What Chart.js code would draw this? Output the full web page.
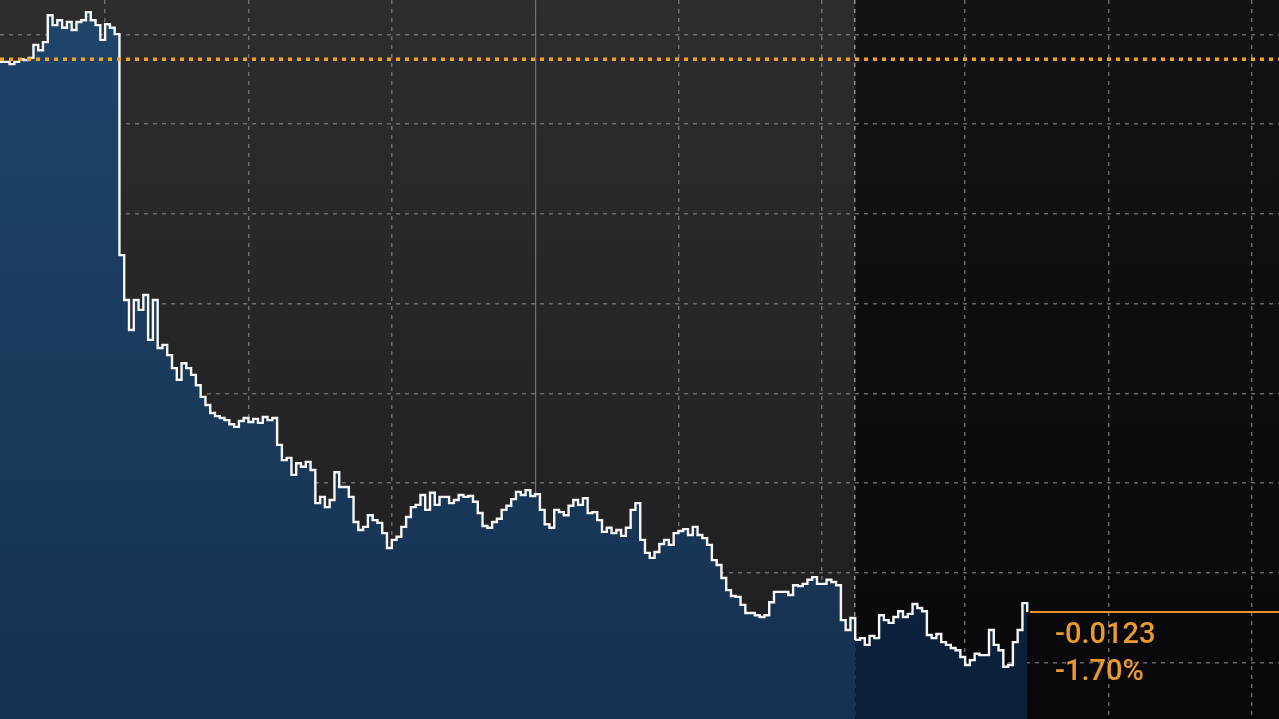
<!DOCTYPE html>
<html>
<head>
<meta charset="utf-8">
<script src="https://cdn.jsdelivr.net/npm/chart.js@4.4.1/dist/chart.umd.min.js"></script>
<style>
  html, body { margin: 0; padding: 0; background: #1f1e21; overflow: hidden; }
  #wrap { width: 1279px; height: 719px; }
</style>
</head>
<body>
<div id="wrap"><canvas id="fxChart" width="1279" height="719"></canvas></div>
<script>
// previous close (orange dotted line) and the index where the dark session starts
const prevClose = 0.72345;
const sessionBreak = 179;

// grid positions (x = bar index, y = price)
const xGridTicks = [22, 52, 82, 112, 142, 172, 179, 202, 232, 262];
const solidTick = 112;
const yGridTicks = [0.710, 0.712, 0.714, 0.716, 0.718, 0.720, 0.722, 0.724];

// close of each bar
const prices = [
  0.72339, 0.72339, 0.72334, 0.72339, 0.72345, 0.72343, 0.72348, 0.72377, 0.72365, 0.72383, 0.72443, 0.72421,
  0.72432, 0.72415, 0.72428, 0.72410, 0.72428, 0.72432, 0.72450, 0.72432, 0.72421, 0.72388, 0.72423, 0.72415,
  0.72401, 0.71908, 0.71808, 0.71741, 0.71808, 0.71786, 0.71819, 0.71719, 0.71808, 0.71701, 0.71708, 0.71685,
  0.71656, 0.71630, 0.71667, 0.71656, 0.71641, 0.71618, 0.71592, 0.71574, 0.71556, 0.71549, 0.71545, 0.71540,
  0.71531, 0.71525, 0.71538, 0.71545, 0.71536, 0.71543, 0.71534, 0.71547, 0.71540, 0.71545, 0.71485, 0.71451,
  0.71456, 0.71418, 0.71444, 0.71436, 0.71447, 0.71429, 0.71355, 0.71369, 0.71346, 0.71362, 0.71424, 0.71391,
  0.71391, 0.71369, 0.71313, 0.71295, 0.71302, 0.71328, 0.71317, 0.71311, 0.71288, 0.71255, 0.71273, 0.71280,
  0.71302, 0.71324, 0.71346, 0.71351, 0.71373, 0.71340, 0.71378, 0.71351, 0.71369, 0.71369, 0.71355, 0.71362,
  0.71373, 0.71369, 0.71371, 0.71358, 0.71333, 0.71304, 0.71300, 0.71313, 0.71320, 0.71340, 0.71349, 0.71364,
  0.71380, 0.71373, 0.71384, 0.71371, 0.71375, 0.71340, 0.71308, 0.71300, 0.71340, 0.71335, 0.71328, 0.71349,
  0.71362, 0.71351, 0.71366, 0.71333, 0.71335, 0.71317, 0.71291, 0.71300, 0.71288, 0.71295, 0.71282, 0.71300,
  0.71340, 0.71355, 0.71273, 0.71244, 0.71233, 0.71246, 0.71264, 0.71273, 0.71262, 0.71288, 0.71293, 0.71297,
  0.71284, 0.71302, 0.71284, 0.71277, 0.71262, 0.71228, 0.71217, 0.71188, 0.71161, 0.71148, 0.71146, 0.71128,
  0.71110, 0.71110, 0.71105, 0.71101, 0.71105, 0.71134, 0.71157, 0.71157, 0.71157, 0.71150, 0.71172, 0.71170,
  0.71175, 0.71184, 0.71190, 0.71175, 0.71175, 0.71184, 0.71179, 0.71172, 0.71094, 0.71072, 0.71099, 0.71050,
  0.71054, 0.71039, 0.71059, 0.71054, 0.71105, 0.71094, 0.71088, 0.71101, 0.71114, 0.71101, 0.71108, 0.71130,
  0.71121, 0.71114, 0.71061, 0.71054, 0.71063, 0.71045, 0.71039, 0.71032, 0.71027, 0.71012, 0.70994, 0.71005,
  0.71019, 0.71016, 0.71016, 0.71072, 0.71039, 0.71027, 0.70990, 0.70994, 0.71045, 0.71072, 0.71132, 0.71112
];

const canvas = document.getElementById("fxChart");
const c2d = canvas.getContext("2d");

const dayFill = c2d.createLinearGradient(0, 0, 0, canvas.height);
dayFill.addColorStop(0, "#1f446a");
dayFill.addColorStop(1, "#163150");
const nightFill = c2d.createLinearGradient(0, 0, 0, canvas.height);
nightFill.addColorStop(0, "#122e4f");
nightFill.addColorStop(1, "#0b2039");

const gridColor = "rgba(140, 140, 146, 0.7)";

const backdrop = {
  id: "backdrop",
  beforeDraw(chart) {
    const { ctx, chartArea: a, scales } = chart;
    const bx = scales.x.getPixelForValue(sessionBreak);
    ctx.save();
    let g = ctx.createLinearGradient(0, a.top, 0, a.bottom);
    g.addColorStop(0, "#2d2c2f");
    g.addColorStop(1, "#1e1d20");
    ctx.fillStyle = g;
    ctx.fillRect(a.left, a.top, bx - a.left, a.bottom - a.top);
    g = ctx.createLinearGradient(0, a.top, 0, a.bottom);
    g.addColorStop(0, "#131315");
    g.addColorStop(1, "#08080a");
    ctx.fillStyle = g;
    ctx.fillRect(bx, a.top, a.right - bx, a.bottom - a.top);
    ctx.restore();
  },
  afterDraw(chart) {
    const { ctx, chartArea: a, scales } = chart;
    const last = prices[prices.length - 1];
    const change = last - prevClose;
    const pct = change / prevClose * 100;

    ctx.save();
    // previous close, dotted
    const py = scales.y.getPixelForValue(prevClose);
    ctx.strokeStyle = "#f5a31c";
    ctx.lineWidth = 3.5;
    ctx.setLineDash([4, 5]);
    ctx.beginPath();
    ctx.moveTo(a.left, py);
    ctx.lineTo(a.right, py);
    ctx.stroke();

    // last price line
    const lx = scales.x.getPixelForValue(prices.length - 0.4);
    const ly = scales.y.getPixelForValue(last);
    ctx.setLineDash([]);
    ctx.lineWidth = 2;
    ctx.strokeStyle = "#e3932a";
    ctx.beginPath();
    ctx.moveTo(lx, ly);
    ctx.lineTo(a.right, ly);
    ctx.stroke();

    ctx.fillStyle = "#eb9a2e";
    ctx.font = "500 29px Roboto, 'Liberation Sans', sans-serif";
    ctx.textAlign = "left";
    ctx.textBaseline = "alphabetic";
    ctx.fillText(change.toFixed(4), lx + 25, ly + 31);
    ctx.fillText(pct.toFixed(2) + "%", lx + 25, ly + 68);
    ctx.restore();
  }
};

new Chart(canvas, {
  type: "line",
  data: {
    datasets: [
      {
        data: prices.map((p, i) => ({ x: i, y: p })),
        borderColor: "#f6f6f6",
        borderWidth: 2.4,
        stepped: true,
        pointRadius: 0,
        fill: "start",
        backgroundColor: dayFill,
        segment: {
          backgroundColor: (ctx) => ctx.p0.parsed.x >= sessionBreak ? nightFill : dayFill
        }
      }
    ]
  },
  options: {
    responsive: false,
    animation: false,
    devicePixelRatio: 1,
    layout: { padding: 0 },
    plugins: {
      legend: { display: false },
      tooltip: { enabled: false }
    },
    scales: {
      x: {
        type: "linear",
        min: 0,
        max: 267.7,
        z: 1,
        afterBuildTicks: (scale) => {
          scale.ticks = xGridTicks.map((v) => ({ value: v }));
        },
        ticks: { display: false },
        grid: {
          drawTicks: false,
          lineWidth: (ctx) => ctx.tick && ctx.tick.value === solidTick ? 1.2 : 1.5,
          color: (ctx) => {
            if (!ctx.tick) return gridColor;
            if (ctx.tick.value === solidTick) return "rgba(120, 120, 126, 0.9)";
            if (ctx.tick.value === sessionBreak) return "rgba(170, 170, 176, 0.8)";
            return gridColor;
          }
        },
        border: {
          display: false,
          dash: (ctx) => ctx.tick && ctx.tick.value === solidTick ? [] : [4, 5]
        }
      },
      y: {
        type: "linear",
        min: 0.708736,
        max: 0.72477,
        z: 1,
        afterBuildTicks: (scale) => {
          scale.ticks = yGridTicks.map((v) => ({ value: v }));
        },
        ticks: { display: false },
        grid: {
          drawTicks: false,
          lineWidth: 1.5,
          color: gridColor
        },
        border: { display: false, dash: [4, 5] }
      }
    }
  },
  plugins: [backdrop]
});
</script>
</body>
</html>
